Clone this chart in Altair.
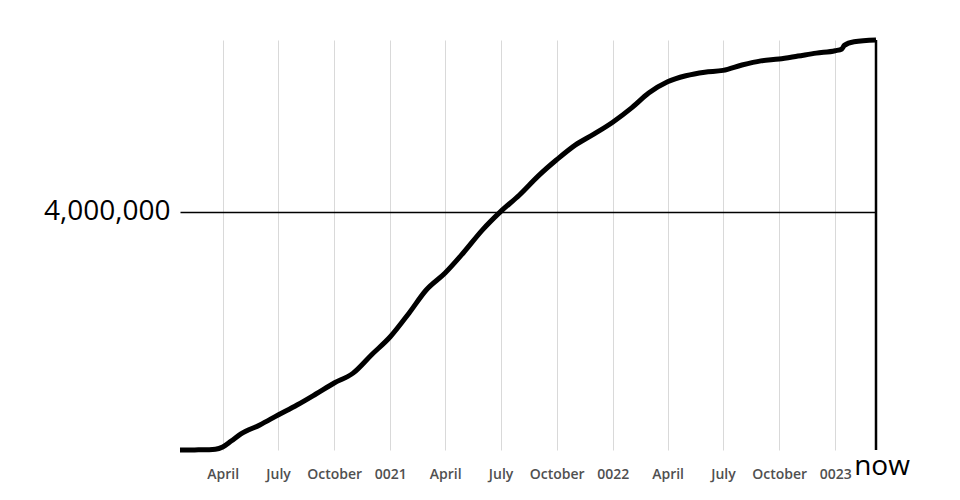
import altair as alt
import pandas as pd

# cumulative series
dates = ["2020-01-22", "2020-02-15", "2020-03-10", "2020-03-20", "2020-04-01", "2020-04-15",
         "2020-05-01", "2020-06-01", "2020-07-01", "2020-08-01", "2020-09-01", "2020-10-01",
         "2020-11-01", "2020-12-01", "2021-01-01", "2021-02-01", "2021-03-01", "2021-04-01",
         "2021-05-01", "2021-06-01", "2021-07-01", "2021-08-01", "2021-09-01", "2021-10-01",
         "2021-11-01", "2021-12-01", "2022-01-01", "2022-02-01", "2022-03-01", "2022-04-01",
         "2022-05-01", "2022-06-01", "2022-07-01", "2022-08-01", "2022-09-01", "2022-10-01",
         "2022-11-01", "2022-12-01", "2023-01-01", "2023-01-12", "2023-01-16", "2023-02-01",
         "2023-03-09"]
values = [100, 1700, 4300, 11000, 50000, 150000,
          270000, 420000, 587000, 755000, 940000, 1125000,
          1290000, 1595000, 1900000, 2300000, 2685000, 2970000,
          3310000, 3690000, 4000000, 4280000, 4600000, 4870000,
          5120000, 5300000, 5500000, 5740000, 5990000, 6180000,
          6280000, 6340000, 6370000, 6460000, 6530000, 6560000,
          6610000, 6660000, 6700000, 6730000, 6790000, 6850000,
          6880000]

tick_dates = ["2020-04-01", "2020-07-01", "2020-10-01", "2021-01-01", "2021-04-01",
              "2021-07-01", "2021-10-01", "2022-01-01", "2022-04-01", "2022-07-01",
              "2022-10-01", "2023-01-01"]
tick_labels = ["April", "July", "October", "0021", "April", "July", "October", "0022",
               "April", "July", "October", "0023"]
y_ticks = [4000000]
y_tick_labels = ["4,000,000"]
now_label = "now"

df = pd.DataFrame({"date": dates, "value": values})
now_df = pd.DataFrame({"date": [dates[-1]], "label": [now_label]})

def ms(d):
    return int(pd.Timestamp(d, tz="UTC").value // 10**6)

tick_ms = [ms(d) for d in tick_dates]
label_expr = " : ".join(f"time(datum.value) == {m} ? '{l}'" for m, l in zip(tick_ms, tick_labels)) + " : ''"
y_label_expr = " : ".join(f"datum.value == {v} ? '{l}'" for v, l in zip(y_ticks, y_tick_labels)) + " : ''"

xscale = alt.Scale(type="utc", domain=[ms(dates[0]), ms(dates[-1])], nice=False)
yscale = alt.Scale(domain=[0, max(values)], nice=False)

line = alt.Chart(df).mark_line(color="black", strokeWidth=5, interpolate="monotone",
                               clip=False).encode(
    x=alt.X("date:T", scale=xscale, title=None,
            axis=alt.Axis(values=tick_ms, labelExpr=label_expr, grid=True, gridColor="#d9d9d9",
                          gridWidth=1, ticks=False, domain=False, labelFont="Open Sans",
                          labelFontSize=14, labelFontWeight=600, labelColor="#505050",
                          labelPadding=17, labelAngle=0)),
    y=alt.Y("value:Q", scale=yscale, title=None,
            axis=alt.Axis(values=y_ticks, labelExpr=y_label_expr, grid=True, gridColor="black",
                          gridWidth=1.3, ticks=False, domain=False, labelFont="Open Sans",
                          labelFontSize=28, labelColor="black", labelPadding=10)),
)

now_rule = alt.Chart(now_df).mark_rule(color="black", strokeWidth=2.5).encode(
    x=alt.X("date:T", scale=xscale),
    y=alt.value(0), y2=alt.value(410),
)

now_text = alt.Chart(now_df).mark_text(font="Open Sans", fontSize=28, color="black",
                                       align="center", baseline="alphabetic", dx=6).encode(
    x=alt.X("date:T", scale=xscale),
    y=alt.value(435),
    text="label:N",
)

chart = alt.layer(line, now_rule, now_text).properties(
    width=696, height=410,
    autosize=alt.AutoSizeParams(type="none"),
    padding={"left": 172, "top": 32, "right": 76, "bottom": 42},
).configure_view(stroke=None)

chart.save("out.html", embed_options={"renderer": "svg", "actions": False})
